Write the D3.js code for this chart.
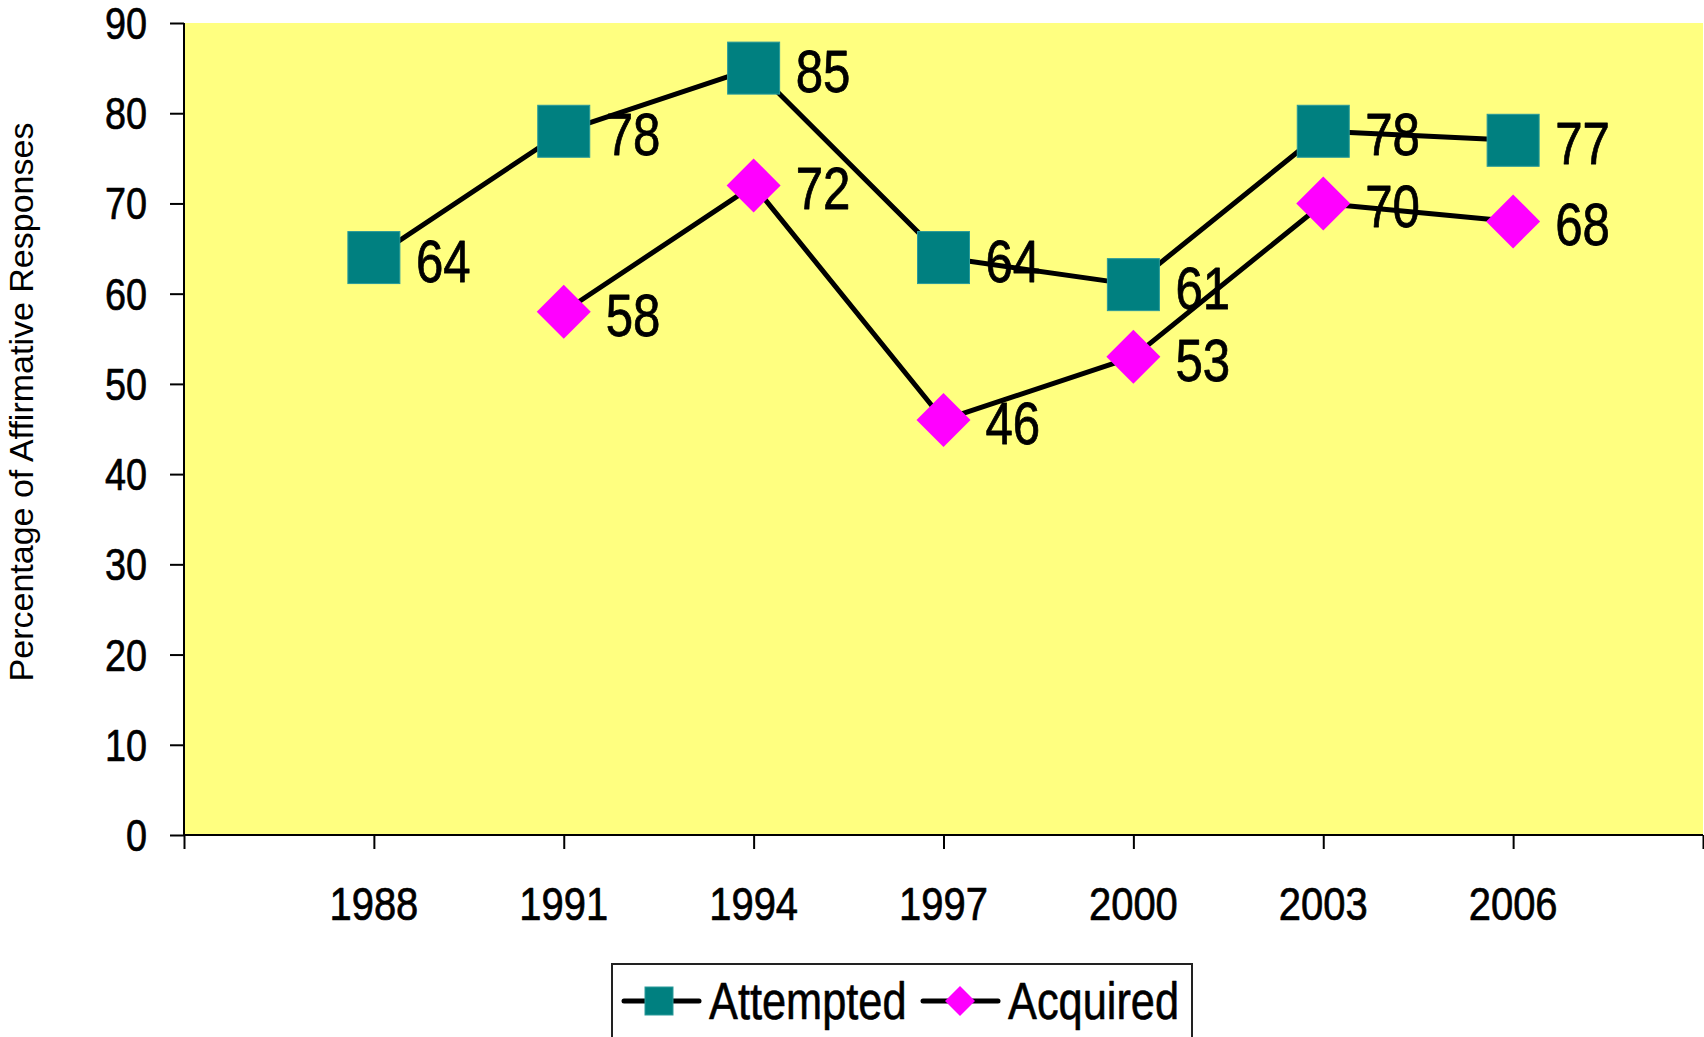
<!DOCTYPE html>
<html>
<head>
<meta charset="utf-8">
<script src="https://cdn.jsdelivr.net/npm/d3@7"></script>
<style>
  html, body { margin: 0; padding: 0; background: #ffffff; overflow: hidden; }
  svg { display: block; }
  text { font-family: "Liberation Sans", Arial, sans-serif; }
</style>
</head>
<body>
<svg id="chart" width="1704" height="1037"></svg>
<script>
// ---- data ----
const years = ["1988", "1991", "1994", "1997", "2000", "2003", "2006"];
const attempted = [64, 78, 85, 64, 61, 78, 77];
const acquired = [null, 58, 72, 46, 53, 70, 68];
const yTicks = [0, 10, 20, 30, 40, 50, 60, 70, 80, 90];
const seriesNames = ["Attempted", "Acquired"];
const yTitle = "Percentage of Affirmative Responses";

// ---- layout ----
const plot = { left: 184, right: 1703, top: 23, bottom: 835 };
const svg = d3.select("#chart");

// x: slots 0..8, categories at 1..7
const x = d3.scaleLinear().domain([0, years.length + 1]).range([plot.left, plot.right]);
const y = d3.scaleLinear().domain([0, 90]).range([plot.bottom, plot.top]);

// place a condensed text at (px, py)
function placeNarrow(sel, fx, fy, k) {
  sel.attr("x", 0).attr("y", 0)
    .attr("transform", (d, i) => `translate(${fx(d, i)},${fy(d, i)}) scale(${k},1)`);
}
function heavy(sel, w) {
  sel.attr("stroke", "#000").attr("stroke-width", w).attr("stroke-linejoin", "round");
}

// plot background
svg.append("rect")
  .attr("x", plot.left).attr("y", plot.top)
  .attr("width", plot.right - plot.left).attr("height", plot.bottom - plot.top)
  .attr("fill", "#FFFF80");

// y axis
const yAxis = d3.axisLeft(y).tickValues(yTicks).tickSize(14).tickFormat(() => "");
const gy = svg.append("g").attr("transform", `translate(${plot.left},0)`).call(yAxis);
gy.select(".domain").attr("stroke", "#000").attr("stroke-width", 2).attr("d", `M0,${plot.top}V${plot.bottom}`);
gy.selectAll(".tick line").attr("stroke", "#000").attr("stroke-width", 2);

svg.append("g").selectAll("text").data(yTicks).join("text")
  .attr("text-anchor", "end")
  .attr("font-size", 45)
  .attr("fill", "#000")
  .call(placeNarrow, () => 147, d => y(d) + 16, 0.84)
  .call(heavy, 0.7)
  .text(d => d);

// x axis: ticks at every slot boundary 0..8, labels at 1..7
const xTickVals = d3.range(0, years.length + 2);
const xAxis = d3.axisBottom(x).tickValues(xTickVals).tickSize(14).tickFormat(() => "");
const gx = svg.append("g").attr("transform", `translate(0,${plot.bottom})`).call(xAxis);
gx.select(".domain").attr("stroke", "#000").attr("stroke-width", 2).attr("d", `M${plot.left},0H${plot.right}`);
gx.selectAll(".tick line").attr("stroke", "#000").attr("stroke-width", 2);

svg.append("g").selectAll("text").data(years).join("text")
  .attr("text-anchor", "middle")
  .attr("font-size", 47)
  .attr("fill", "#000")
  .call(placeNarrow, (d, i) => x(i + 1), () => 920, 0.85)
  .call(heavy, 0.7)
  .text(d => d);

// y title
svg.append("text")
  .attr("transform", `translate(33,402) rotate(-90)`)
  .attr("text-anchor", "middle")
  .attr("font-size", 34)
  .attr("fill", "#000")
  .text(yTitle);

// lines
const line = d3.line()
  .defined(d => d.v != null)
  .x(d => x(d.i + 1))
  .y(d => y(d.v));

const attData = attempted.map((v, i) => ({ v, i }));
const acqData = acquired.map((v, i) => ({ v, i }));

[attData, acqData].forEach(data => {
  svg.append("path").datum(data).attr("d", line)
    .attr("fill", "none").attr("stroke", "#000").attr("stroke-width", 5).attr("stroke-linejoin", "round");
});

// markers
const sq = 52, dm = 27;
svg.append("g").selectAll("rect").data(attData.filter(d => d.v != null)).join("rect")
  .attr("x", d => x(d.i + 1) - sq / 2)
  .attr("y", d => y(d.v) - sq / 2)
  .attr("width", sq).attr("height", sq)
  .attr("fill", "#008080").attr("stroke", "#2A9A9A").attr("stroke-width", 1);

svg.append("g").selectAll("path").data(acqData.filter(d => d.v != null)).join("path")
  .attr("d", d => {
    const cx = x(d.i + 1), cy = y(d.v);
    return `M${cx},${cy - dm}L${cx + dm},${cy}L${cx},${cy + dm}L${cx - dm},${cy}Z`;
  })
  .attr("fill", "#FF00FF");

// data labels
const labelData = attData.concat(acqData).filter(d => d.v != null);
svg.append("g").selectAll("text").data(labelData).join("text")
  .attr("font-size", 60)
  .attr("fill", "#000")
  .call(placeNarrow, d => x(d.i + 1) + 42, d => y(d.v) + 24, 0.82)
  .call(heavy, 0.8)
  .text(d => d.v);

// legend
const lg = svg.append("g");
lg.append("rect").attr("x", 612).attr("y", 964).attr("width", 580).attr("height", 80)
  .attr("fill", "#fff").attr("stroke", "#222").attr("stroke-width", 2);

const legendItems = [
  { name: seriesNames[0], lx1: 624, lx2: 699, cx: 659, tx: 709, type: "square" },
  { name: seriesNames[1], lx1: 923, lx2: 998, cx: 960, tx: 1008, type: "diamond" }
];
const ly = 1001;
legendItems.forEach(it => {
  lg.append("line").attr("x1", it.lx1).attr("x2", it.lx2).attr("y1", ly).attr("y2", ly)
    .attr("stroke", "#000").attr("stroke-width", 5).attr("stroke-linecap", "round");
  if (it.type === "square") {
    lg.append("rect").attr("x", it.cx - 14).attr("y", ly - 14).attr("width", 28).attr("height", 28)
      .attr("fill", "#008080").attr("stroke", "#2A9A9A").attr("stroke-width", 1);
  } else {
    const r = 15;
    lg.append("path").attr("d", `M${it.cx},${ly - r}L${it.cx + r},${ly}L${it.cx},${ly + r}L${it.cx - r},${ly}Z`)
      .attr("fill", "#FF00FF");
  }
  lg.append("text").datum(it)
    .attr("font-size", 51).attr("fill", "#000")
    .call(placeNarrow, d => d.tx, () => 1019, 0.85)
    .call(heavy, 0.6)
    .text(d => d.name);
});
</script>
</body>
</html>
